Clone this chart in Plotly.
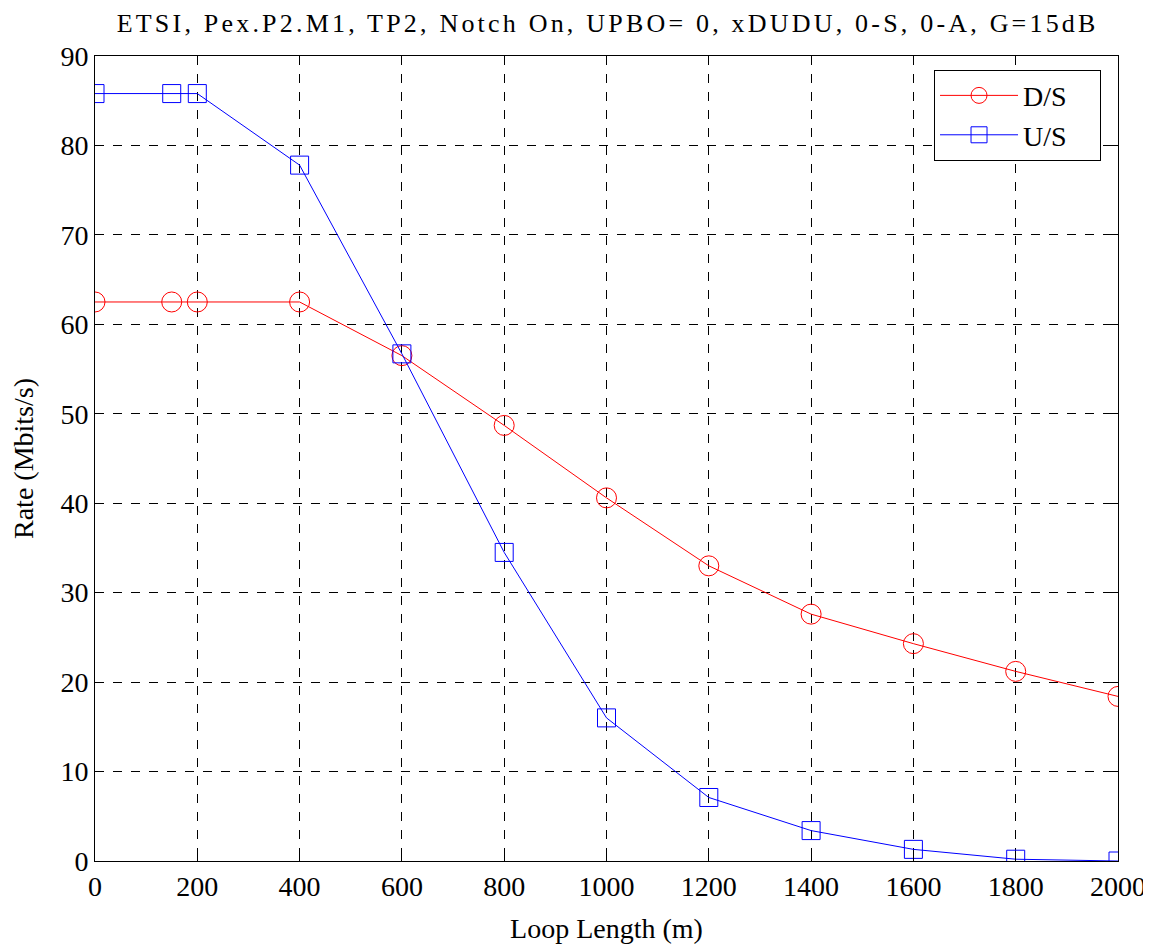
import plotly.graph_objects as go

loop_length = [0, 150, 200, 400, 600, 800, 1000, 1200, 1400, 1600, 1800, 2000]
ds_rate = [62.5, 62.5, 62.5, 62.5, 56.5, 48.7, 40.6, 33.0, 27.6, 24.3, 21.2, 18.4]
us_rate = [85.8, 85.8, 85.8, 77.8, 56.7, 34.5, 16.0, 7.1, 3.4, 1.3, 0.2, 0.0]
x_ticks = [0, 200, 400, 600, 800, 1000, 1200, 1400, 1600, 1800, 2000]
y_ticks = [0, 10, 20, 30, 40, 50, 60, 70, 80, 90]
series_names = ["D/S", "U/S"]

font = "Liberation Serif, Times New Roman, serif"
pad = "\u00a0" * 4

fig = go.Figure()
fig.add_trace(go.Scatter(
    x=loop_length, y=ds_rate, name=series_names[0] + pad, mode="lines+markers",
    line=dict(color="#ff0000", width=1),
    marker=dict(symbol="circle-open", size=20, color="#ff0000", line=dict(width=1, color="#ff0000")),
))
fig.add_trace(go.Scatter(
    x=loop_length, y=us_rate, name=series_names[1] + pad, mode="lines+markers",
    line=dict(color="#0000ff", width=1),
    marker=dict(symbol="square-open", size=18, color="#0000ff", line=dict(width=1, color="#0000ff")),
))

axis_common = dict(
    showline=True, linecolor="black", linewidth=1, mirror="ticks",
    ticks="inside", ticklen=6, tickcolor="black",
    showgrid=True, gridcolor="black", griddash="dash", gridwidth=1,
    zeroline=False,
    tickfont=dict(family=font, size=28, color="black"),
)

fig.update_xaxes(
    range=[0, 2000], tickvals=x_ticks, ticktext=[str(v) for v in x_ticks],
    title=dict(text="Loop Length (m)", font=dict(family=font, size=28, color="black"), standoff=17),
    **axis_common,
)
fig.update_yaxes(
    range=[0, 90], tickvals=y_ticks, ticktext=[str(v) for v in y_ticks],
    title=dict(text="Rate (Mbits/s)", font=dict(family=font, size=28, color="black"), standoff=20),
    **axis_common,
)

fig.update_layout(
    width=1151, height=947,
    margin=dict(l=87, r=41, t=48, b=94),
    paper_bgcolor="white", plot_bgcolor="white",
    title=dict(
        text="ETSI, Pex.P2.M1, TP2, Notch On, UPBO= 0, xDUDU, 0-S, 0-A, G=15dB",
        font=dict(family=font, size=26, color="black"),
        xref="container", x=0.521, xanchor="center", y=0.984, yanchor="middle",
    ),
    legend=dict(
        x=0.9834, xanchor="right", y=0.983, yanchor="top",
        bordercolor="black", borderwidth=1, bgcolor="white",
        font=dict(family=font, size=28, color="black"),
        itemwidth=78, tracegroupgap=0,
    ),
    showlegend=True,
)

post = """
var t = document.querySelectorAll('.gtitle');
t.forEach(function(e){ e.style.letterSpacing = '3.2px'; });
"""
fig.write_html("out.html", post_script=post)
